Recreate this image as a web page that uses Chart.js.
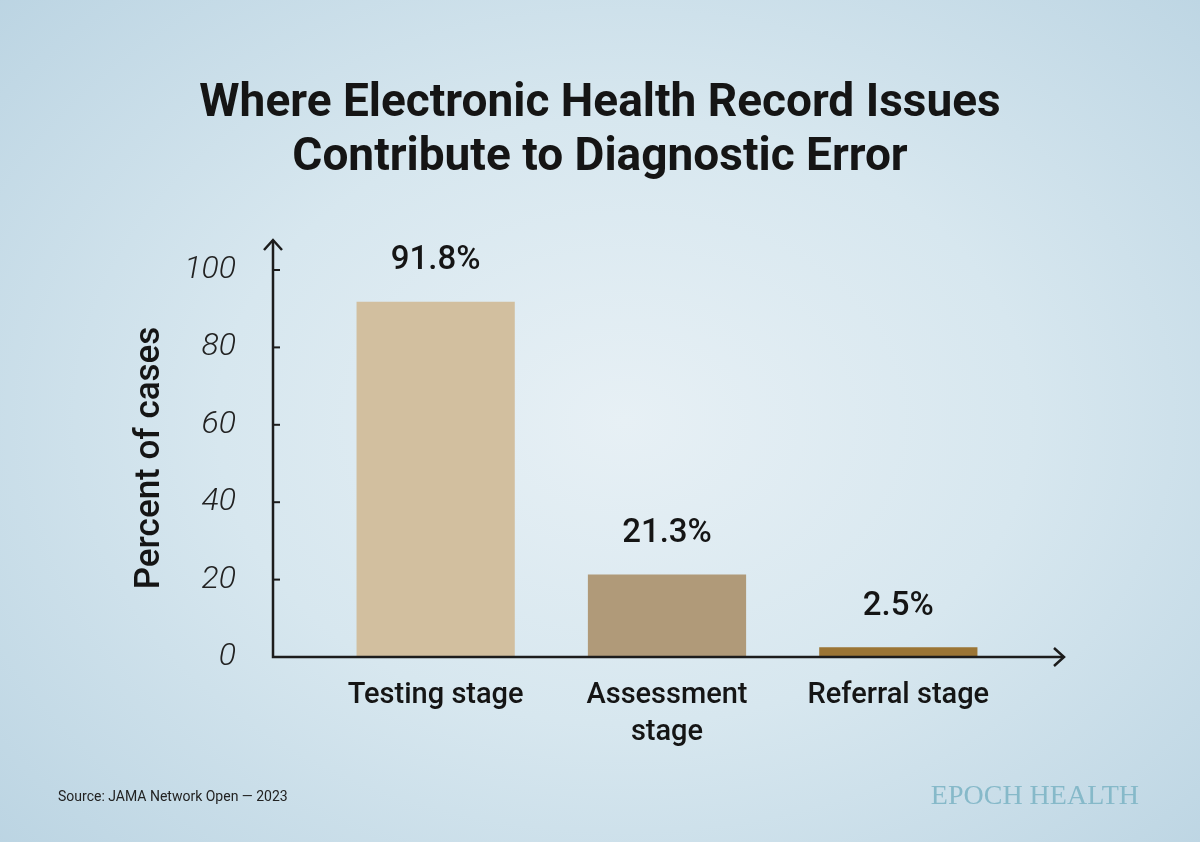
<!DOCTYPE html>
<html>
<head>
<meta charset="utf-8">
<script src="https://cdn.jsdelivr.net/npm/chart.js@4"></script>
<style>
    html, body { margin: 0; padding: 0; }
    body {
        width: 1200px;
        height: 842px;
        overflow: hidden;
        background: radial-gradient(ellipse 75% 80% at 52% 50%, #e7f0f5 0%, #d7e7ef 45%, #b8d2e1 100%);
    }
    #graphique { display: block; }
</style>
</head>
<body>
<canvas id="graphique" width="1200" height="842"></canvas>
<script>
/********************/
/* Données globales */
/********************/
var titreLignes = ['Where Electronic Health Record Issues', 'Contribute to Diagnostic Error'];
var categories = ['Testing stage', ['Assessment', 'stage'], 'Referral stage'];
var pourcentages = [91.8, 21.3, 2.5];
var graduationY = { min: 0, max: 100, pas: 20 };
var titreAxeY = 'Percent of cases';
var source = 'Source: JAMA Network Open \u2014 2023';
var marque = 'EPOCH HEALTH';

//Couleurs des barres (une par catégorie)
var couleursBarres = ['#d2bf9f', '#b09a79', '#9b7535'];

var police = 'Roboto, "Liberation Sans", sans-serif';
var couleurTexte = '#151515';

/*******************************************/
/* Plugin de dessin : titre, axes, valeurs */
/*******************************************/
var pluginDecor = {
    id: 'decor',
    afterDraw: function(chart) {
        var ctx = chart.ctx;
        var zone = chart.chartArea;
        var echelleY = chart.scales.y;
        var xAxe = zone.left - 47;
        var yAxe = zone.bottom;

        ctx.save();

        //Titre sur deux lignes
        ctx.fillStyle = couleurTexte;
        ctx.textAlign = 'center';
        ctx.textBaseline = 'middle';
        ctx.font = '700 46px ' + police;
        titreLignes.forEach(function(ligne, i) {
            ctx.fillText(ligne, 600, 104 + i * 54);
        });

        //Axes avec flèches
        ctx.strokeStyle = '#1c1c1c';
        ctx.lineWidth = 2.5;
        ctx.lineCap = 'butt';
        ctx.beginPath();
        ctx.moveTo(xAxe, zone.top - 30);
        ctx.lineTo(xAxe, yAxe);
        ctx.lineTo(1064, yAxe);
        ctx.stroke();

        ctx.lineJoin = 'miter';
        ctx.beginPath();
        ctx.moveTo(xAxe - 9, zone.top - 20);
        ctx.lineTo(xAxe, zone.top - 30);
        ctx.lineTo(xAxe + 9, zone.top - 20);
        ctx.moveTo(1054, yAxe - 9);
        ctx.lineTo(1064, yAxe);
        ctx.lineTo(1054, yAxe + 9);
        ctx.stroke();

        //Petites graduations à droite de l'axe Y
        ctx.lineWidth = 2;
        echelleY.ticks.forEach(function(t) {
            if (t.value === graduationY.min) return;
            var y = echelleY.getPixelForValue(t.value);
            ctx.beginPath();
            ctx.moveTo(xAxe, y);
            ctx.lineTo(xAxe + 7, y);
            ctx.stroke();
        });

        //Titre de l'axe Y (vertical)
        ctx.save();
        ctx.translate(150, 458);
        ctx.rotate(-Math.PI / 2);
        ctx.font = '500 35px ' + police;
        ctx.fillStyle = couleurTexte;
        ctx.fillText(titreAxeY, 0, 0);
        ctx.restore();

        //Valeurs au-dessus des barres
        ctx.font = '500 33px ' + police;
        ctx.fillStyle = couleurTexte;
        chart.getDatasetMeta(0).data.forEach(function(barre, i) {
            ctx.fillText(pourcentages[i] + '%', barre.x, barre.y - 41);
        });

        //Source et marque
        ctx.textAlign = 'left';
        ctx.font = '400 14px ' + police;
        ctx.fillStyle = '#222';
        ctx.fillText(source, 58, 797);

        ctx.textAlign = 'right';
        ctx.font = '400 28px "Liberation Serif", "DejaVu Serif", serif';
        ctx.fillStyle = '#86b9c9';
        ctx.fillText(marque, 1139, 797);

        ctx.restore();
    }
};

/************************/
/* Création du graphe   */
/************************/
var ctx = document.getElementById('graphique').getContext('2d');
var graphique = new Chart(ctx, {
    type: 'bar',
    data: {
        labels: categories,
        datasets: [{
            data: pourcentages,
            backgroundColor: couleursBarres,
            borderWidth: 0,
            barPercentage: 0.684,
            categoryPercentage: 1
        }]
    },
    options: {
        responsive: false,
        devicePixelRatio: 1,
        animation: false,
        layout: {
            padding: { top: 270, right: 186, bottom: 0, left: 0 }
        },
        plugins: {
            legend: { display: false },
            tooltip: { enabled: false }
        },
        scales: {
            x: {
                grid: { display: false, drawTicks: false },
                border: { display: false },
                ticks: {
                    color: couleurTexte,
                    font: { family: police, size: 29, weight: '500', lineHeight: 1.28 },
                    padding: 20,
                    maxRotation: 0,
                    autoSkip: false
                },
                afterFit: function(echelle) { echelle.height = 185; }
            },
            y: {
                min: graduationY.min,
                max: graduationY.max,
                grid: { display: false, drawTicks: false },
                border: { display: false },
                ticks: {
                    stepSize: graduationY.pas,
                    color: '#222',
                    font: { family: police, size: 32, weight: '300', style: 'italic' },
                    padding: 84
                },
                afterFit: function(echelle) { echelle.width = 320; }
            }
        }
    },
    plugins: [pluginDecor]
});
</script>
</body>
</html>
